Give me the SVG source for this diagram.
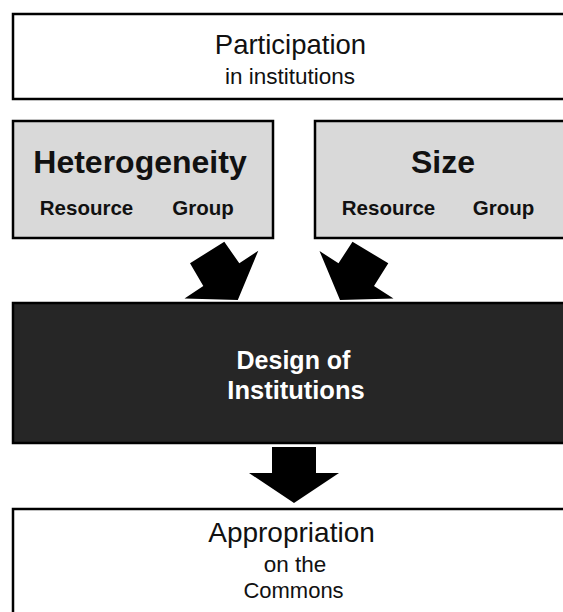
<svg xmlns="http://www.w3.org/2000/svg" width="563" height="612" viewBox="0 0 563 612">
  <style>
    .box { stroke: #000; stroke-width: 2.5; }
    .white { fill: #ffffff; }
    .grey { fill: #d9d9d9; }
    .dark { fill: #262626; }
    text { font-family: "Liberation Sans", Arial, sans-serif; text-anchor: middle; fill: #111; }
    .b { font-weight: bold; }
    .inv { fill: #ffffff; }
    .arrow { fill: #000; stroke: none; }
  </style>
  <rect x="0" y="0" width="563" height="612" fill="#ffffff"/>
  <g id="connectors">
    <polygon class="arrow" points="190,263.3 224.3,241.7 239.3,263.3 258.3,250.7 237.8,300 184.5,298.5 203.3,286"/>
    <polygon class="arrow" points="388.3,263.3 352.5,241.7 338.5,263.3 319.5,251 340,300 393.5,298.5 374,286"/>
    <polygon class="arrow" points="272,447 316,447 316,473 339,473 294,503 249,473 272,473"/>
  </g>
  <g id="participation">
    <rect class="box white" x="13" y="14" width="570" height="85"/>
    <text x="290.5" y="54" font-size="27.5">Participation</text>
    <text x="290" y="84" font-size="22.5">in institutions</text>
  </g>
  <g id="heterogeneity">
    <rect class="box grey" x="13" y="121" width="260" height="117"/>
    <text class="b" x="140" y="173" font-size="32">Heterogeneity</text>
    <text class="b" x="86.5" y="215" font-size="20.5">Resource</text>
    <text class="b" x="203" y="215" font-size="20.5">Group</text>
  </g>
  <g id="size">
    <rect class="box grey" x="315" y="121" width="270" height="117"/>
    <text class="b" x="443" y="173" font-size="32">Size</text>
    <text class="b" x="388.5" y="215" font-size="20.5">Resource</text>
    <text class="b" x="503.5" y="215" font-size="20.5">Group</text>
  </g>
  <g id="design">
    <rect class="box dark" x="13" y="303" width="570" height="140"/>
    <text class="b inv" x="293.5" y="369" font-size="25">Design of</text>
    <text class="b inv" x="296" y="399" font-size="25.5">Institutions</text>
  </g>
  <g id="appropriation">
    <rect class="box white" x="13" y="509" width="570" height="120"/>
    <text x="291.5" y="541.5" font-size="28">Appropriation</text>
    <text x="295" y="571.5" font-size="22.5">on the</text>
    <text x="293.5" y="598" font-size="22">Commons</text>
  </g>
</svg>
